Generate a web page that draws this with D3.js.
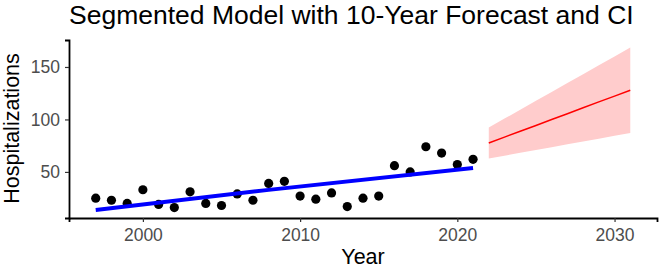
<!DOCTYPE html>
<html>
<head>
<meta charset="utf-8">
<script src="https://cdn.jsdelivr.net/npm/d3@7"></script>
<style>
  body { margin: 0; background: #fff; }
  text { font-family: "Liberation Sans", Arial, sans-serif; }
</style>
</head>
<body>
<div id="chart"></div>
<script>
// observed yearly counts
var years = [1997, 1998, 1999, 2000, 2001, 2002, 2003, 2004, 2005, 2006, 2007, 2008,
             2009, 2010, 2011, 2012, 2013, 2014, 2015, 2016, 2017, 2018, 2019, 2020, 2021];
var hosp = [25, 23, 20, 33, 19, 16, 31, 20, 18, 29, 23, 39,
            41, 27, 24, 30, 17, 25, 27, 56, 50, 74, 68, 57, 62];

// segmented fit (break near 2008)
var segYears = [1997, 2008, 2021];
var segFit = [13.8, 32.9, 53.8];

// 10-year forecast with CI
var fcYears = [2022, 2023, 2024, 2025, 2026, 2027, 2028, 2029, 2030, 2031];
var fcFit = [77.6, 83.2, 88.8, 94.3, 99.9, 105.5, 111.1, 116.7, 122.2, 127.8];
var fcLower = [62.8, 65.5, 68.2, 70.9, 73.6, 76.3, 79.0, 81.7, 84.4, 87.1];
var fcUpper = [92.3, 100.8, 109.2, 117.7, 126.2, 134.7, 143.1, 151.6, 160.0, 168.5];

var xTicks = [2000, 2010, 2020, 2030];
var yTicks = [50, 100, 150];

var margin = { top: 40, right: 4, bottom: 53, left: 69 },
    width = 661 - margin.left - margin.right,
    height = 271 - margin.top - margin.bottom;

var svg = d3.select("#chart")
    .append("svg")
    .attr("width", 661)
    .attr("height", 271);

var g = svg.append("g")
    .attr("transform", "translate(" + margin.left + "," + margin.top + ")");

var x = d3.scaleLinear()
    .domain([1995.3, 2032.7])
    .range([0, width]);

var y = d3.scaleLinear()
    .domain([6.1, 175.7])
    .range([height, 0]);

// CI ribbon
var area = d3.area()
    .x(function (d, i) { return x(fcYears[i]); })
    .y0(function (d, i) { return y(fcLower[i]); })
    .y1(function (d, i) { return y(fcUpper[i]); });

g.append("path")
    .datum(fcYears)
    .attr("d", area)
    .attr("fill", "#ffcccc");

var line = d3.line()
    .x(function (d) { return x(d[0]); })
    .y(function (d) { return y(d[1]); });

g.append("path")
    .datum(fcYears.map(function (yr, i) { return [yr, fcFit[i]]; }))
    .attr("d", line)
    .attr("fill", "none")
    .attr("stroke", "#ff0000")
    .attr("stroke-width", 1.5);

g.selectAll(".pt")
    .data(years)
    .enter().append("circle")
    .attr("class", "pt")
    .attr("cx", function (d) { return x(d); })
    .attr("cy", function (d, i) { return y(hosp[i]); })
    .attr("r", 4.6)
    .attr("fill", "#000");

g.append("path")
    .datum(segYears.map(function (yr, i) { return [yr, segFit[i]]; }))
    .attr("d", line)
    .attr("fill", "none")
    .attr("stroke", "#0000ff")
    .attr("stroke-width", 4);

// axes
var xAxis = g.append("g")
    .attr("transform", "translate(0," + height + ")")
    .call(d3.axisBottom(x).tickValues(xTicks).tickFormat(d3.format("d")).tickSizeOuter(0).tickSize(4).tickPadding(7));

var yAxis = g.append("g")
    .call(d3.axisLeft(y).tickValues(yTicks).tickSizeOuter(0).tickSize(4).tickPadding(5));

[xAxis, yAxis].forEach(function (ax) {
    ax.select(".domain").attr("stroke", "#000").attr("stroke-width", 1.8);
    ax.selectAll(".tick line").attr("stroke", "#333").attr("stroke-width", 1.2);
    ax.selectAll(".tick text")
        .attr("fill", "#4d4d4d")
        .style("font-size", "17.5px")
        .style("font-family", "Liberation Sans, Arial, sans-serif");
});

// titles
svg.append("text")
    .attr("x", 69)
    .attr("y", 23.5)
    .style("font-size", "26.5px")
    .attr("fill", "#000")
    .text("Segmented Model with 10-Year Forecast and CI");

svg.append("text")
    .attr("x", margin.left + width / 2)
    .attr("y", 264)
    .style("text-anchor", "middle")
    .style("font-size", "21.5px")
    .attr("fill", "#000")
    .text("Year");

svg.append("text")
    .attr("transform", "translate(19," + 128.5 + ") rotate(-90)")
    .style("text-anchor", "middle")
    .style("font-size", "21.5px")
    .attr("fill", "#000")
    .text("Hospitalizations");
</script>
</body>
</html>
